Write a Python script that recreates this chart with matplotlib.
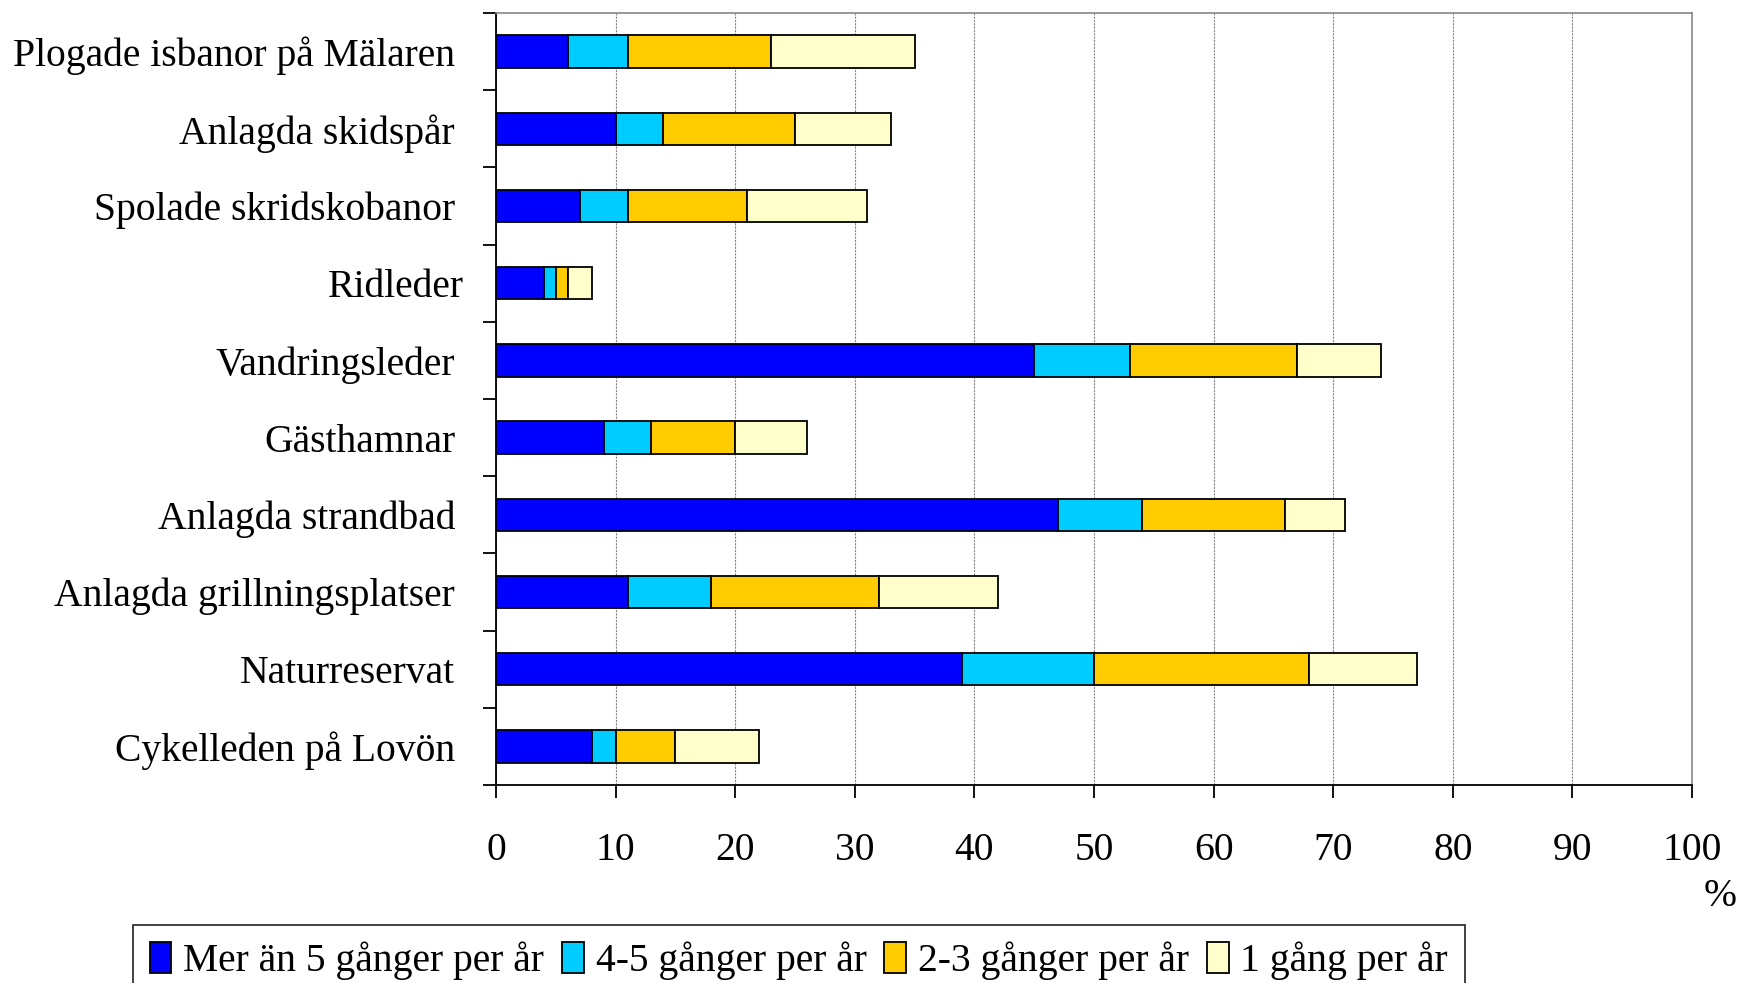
import matplotlib
matplotlib.use("Agg")
import matplotlib.pyplot as plt
from matplotlib.patches import Patch
from matplotlib.transforms import ScaledTranslation
import numpy as np

categories = ["Plogade isbanor på Mälaren", "Anlagda skidspår", "Spolade skridskobanor",
              "Ridleder", "Vandringsleder", "Gästhamnar", "Anlagda strandbad",
              "Anlagda grillningsplatser", "Naturreservat", "Cykelleden på Lovön"]
series_names = ["Mer än 5 gånger per år", "4-5 gånger per år", "2-3 gånger per år", "1 gång per år"]
mer_an_5 = [6, 10, 7, 4, 45, 9, 47, 11, 39, 8]
fyra_fem = [5, 4, 4, 1, 8, 4, 7, 7, 11, 2]
tva_tre = [12, 11, 10, 1, 14, 7, 12, 14, 18, 5]
en_gang = [12, 8, 10, 2, 7, 6, 5, 10, 9, 7]
colors = ["#0000FF", "#00CCFF", "#FFCC00", "#FFFFCC"]
xticks = [0, 10, 20, 30, 40, 50, 60, 70, 80, 90, 100]

plt.rcParams['font.family'] = ['Liberation Serif', 'DejaVu Serif']
FS = 28.5

fig = plt.figure(figsize=(17.41, 9.83), dpi=100)
ax = fig.add_axes([496/1741, 1-785/983, (1692-496)/1741, (785-13)/983])

y = np.arange(len(categories))
left = np.zeros(len(categories))
for vals, c, name in zip([mer_an_5, fyra_fem, tva_tre, en_gang], colors, series_names):
    ax.barh(y, vals, left=left, height=0.42, color=c, edgecolor='black', linewidth=1.3,
            label=name, zorder=3)
    left += np.array(vals)

ax.set_xlim(0, 100)
ax.set_ylim(len(categories) - 0.5, -0.5)
ax.set_xticks(xticks)
ax.set_xticklabels([str(t) for t in xticks], fontsize=FS, family='Liberation Serif')
ax.set_yticks(y)
ylabels = ax.set_yticklabels(categories, fontsize=FS, family='Liberation Serif')
ax.set_yticks(np.arange(len(categories) + 1) - 0.5, minor=True)
ax.tick_params(axis='y', which='major', length=0, pad=41*0.72)
ax.tick_params(axis='y', which='minor', length=9.5, width=1.3, direction='out')
ax.tick_params(axis='x', which='major', length=9.5, width=1.3, direction='out', pad=24)

# "Ridleder" sits slightly further right in the original
lab = ylabels[categories.index("Ridleder")]
lab.set_transform(lab.get_transform() + ScaledTranslation(9/100, 0, fig.dpi_scale_trans))

ax.grid(axis='x', color='#888888', linestyle=(0, (2, 1)), linewidth=0.8, zorder=0)
for s in ['left', 'bottom']:
    ax.spines[s].set_color('black')
    ax.spines[s].set_linewidth(1.3)
for s in ['top', 'right']:
    ax.spines[s].set_color('#888888')
    ax.spines[s].set_linewidth(1.2)

fig.text(1720/1741, 1-897/983, "%", fontsize=FS, ha='center', va='center', family='Liberation Serif')

handles = [Patch(facecolor=c, edgecolor='black', linewidth=1.3) for c in colors]
leg = fig.legend(handles, series_names, loc='upper left', bbox_to_anchor=(133/1741, 1-925/983),
                 ncol=4, prop={'family': 'Liberation Serif', 'size': FS}, frameon=True,
                 fancybox=False, handlelength=0.55, handleheight=0.8, handletextpad=0.3,
                 columnspacing=0.45, borderpad=0.42, borderaxespad=0)
leg.get_frame().set_edgecolor('black')
leg.get_frame().set_linewidth(1.3)

fig.savefig("out.png", dpi=100)
